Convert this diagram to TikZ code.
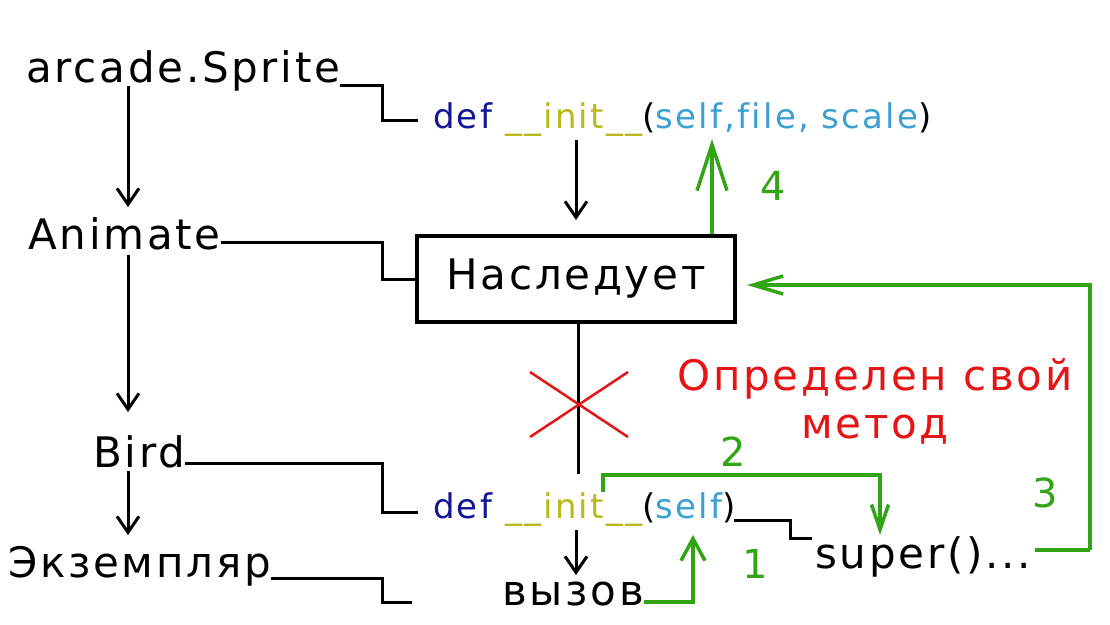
\documentclass[tikz,border=0pt]{standalone}
\usepackage{fontspec}
\setmainfont{DejaVu Sans}[LetterSpace=6.5,Ligatures=NoCommon]
\usetikzlibrary{arrows.meta,calc}
\definecolor{defc}{RGB}{20,20,150}
\definecolor{initc}{RGB}{185,185,30}
\definecolor{argc}{RGB}{60,160,210}
\definecolor{redc}{RGB}{230,20,20}
\definecolor{grn}{RGB}{50,165,20}
\begin{document}
\begin{tikzpicture}[x=1pt,y=-1pt,
  lbl/.style={inner sep=0pt, anchor=base west, font=\fontsize{42}{50}\selectfont},
  code/.style={inner sep=0pt, anchor=base west, font=\fontsize{34}{40}\selectfont},
  redtxt/.style={inner sep=0pt, anchor=base, text=redc, font=\fontsize{42}{50}\selectfont},
  num/.style={inner sep=0pt, anchor=base west, text=grn, font=\fontsize{40}{48}\selectfont},
  link/.style={line width=3pt, draw=black},
  arr/.style={line width=3pt, draw=black, -{Straight Barb[length=16pt,width=22pt,line width=3pt]}},
  garr/.style={line width=3.5pt, draw=grn},
  gline/.style={line width=3.5pt, draw=grn},
  cross/.style={line width=2.5pt, draw=redc}]
\useasboundingbox[fill=white] (0,0) rectangle (1110,624);

% nodes
\node[lbl] (sprite) at (26,82) {arcade.Sprite};
\node[code] (def1) at (433,128) {{\color{defc}def} {\color{initc}\_\_init\_\_}(\textcolor{argc}{self,file, scale})};
\node[lbl] (animate) at (28,249) {Animate};
\node[draw, line width=4pt, minimum width=318pt, minimum height=86pt, inner sep=0pt,
      font=\fontsize{42}{50}\selectfont] (box) at (576,279) {Наследует\hspace{22pt}};
\node[redtxt] (opr) at (875,390) {Определен свой};
\node[redtxt] (metod) at (875,438) {метод};
\node[lbl] (bird) at (93,467) {Bird};
\node[code] (def2) at (433,518) {{\color{defc}def} {\color{initc}\_\_init\_\_}(\textcolor{argc}{self})};
\node[lbl] (super) at (815,568) {super()...};
\node[lbl] (ekz) at (8,577) {Экземпляр};
\node[lbl] (vyzov) at (502,605) {вызов};
\node[num] (n4) at (760,200) {4};
\node[num] (n2) at (720,466) {2};
\node[num] (n3) at (1032,507) {3};
\node[num] (n1) at (742,578) {1};

% coordinates
\coordinate (c1) at (382,85);
\coordinate (c2) at (382,242);
\coordinate (c3) at (382,463);
\coordinate (c4) at (382,578);
\coordinate (c5) at (790,520);
\coordinate (g3) at (1090,550);
\coordinate (g2) at (603,475);
\coordinate (g1) at (693,602);
\coordinate (xc) at (578,404);

% brackets
\draw[link] ($(sprite.base east)+(0,3)$) -- (c1) |- ($(def1.base west)+(-15,-8)$);
\draw[link] ($(animate.base east)+(0,-7)$) -- (c2) |- (box.west);
\draw[link] ($(bird.base east)+(0,-4)$) -- (c3) |- ($(def2.base west)+(-15,-6)$);
\draw[link] ($(ekz.base east)+(0,1)$) -- (c4) |- ($(vyzov.base west)+(-90,-3)$);
\draw[link] ($(def2.base east)+(-2,2)$) -- (c5) |- ($(super.base west)+(-3,-30)$);

% black arrows
\draw[arr] ($(sprite.base west)+(102,4)$) -- ($(animate.base west)+(100,-42)$);
\draw[arr] ($(animate.base west)+(100,6)$) -- ($(bird.base west)+(35,-55)$);
\draw[arr] ($(bird.base west)+(35,4)$) -- ($(ekz.base west)+(120,-42)$);
\draw[arr] ($(def1.base west)+(143,12)$) -- ($(box.north)+(0,-14)$);
\draw[arr] ($(def2.base west)+(143,12)$) -- ($(vyzov.base west)+(74,-30)$);
\draw[link] (box.south -| xc) -- ($(def2.base west)+(145,-44)$);

% red cross
\draw[cross] ($(xc)+(-48,-32)$) -- ($(xc)+(50,33)$);
\draw[cross] ($(xc)+(-48,33)$) -- ($(xc)+(50,-32)$);

% green arrows
\draw[garr, -{Straight Barb[length=46pt,width=30pt,line width=3.5pt]}] (box.north -| 712,0) -- ($(def1.base west)+(279,11)$);
\draw[gline] ($(super.base east)+(4,-18)$) -- (g3);
\draw[garr, -{Straight Barb[length=30pt,width=18pt,line width=3.5pt]}] (g3) |- ($(box.east)+(10,6)$);
\draw[garr, -{Straight Barb[length=25pt,width=17pt,line width=3.5pt]}] ($(def2.base west)+(170,-26)$) |- (g2) -| ($(super.base west)+(65,-33)$);
\draw[garr, -{Straight Barb[length=22pt,width=24pt,line width=3.5pt]}] ($(vyzov.base east)+(0,-3)$) -- (g1) -- ($(def2.base west)+(260,17)$);
\end{tikzpicture}
\end{document}
